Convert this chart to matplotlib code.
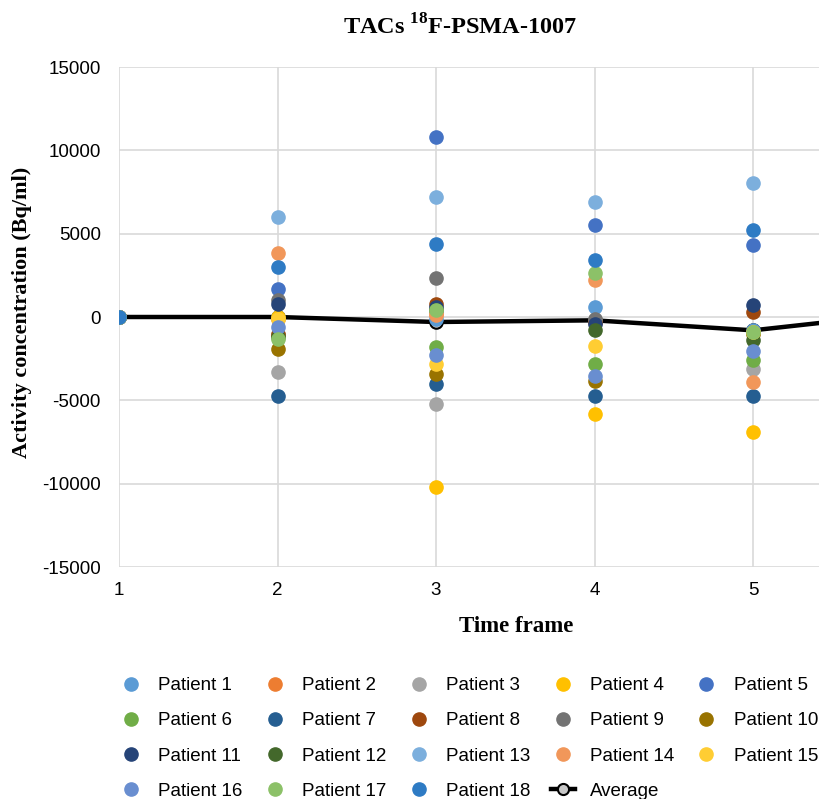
import matplotlib
matplotlib.use("Agg")
import matplotlib.pyplot as plt
from matplotlib.lines import Line2D

plt.rcParams["axes.unicode_minus"] = False
plt.rcParams["font.family"] = ["Liberation Sans", "DejaVu Sans"]
plt.rcParams["mathtext.fontset"] = "custom"
plt.rcParams["mathtext.rm"] = "Liberation Serif:bold"
plt.rcParams["mathtext.bf"] = "Liberation Serif:bold"

time_frames = [1, 2, 3, 4, 5]
patients = [f"Patient {i}" for i in range(1, 19)]
values = {
    "Patient 1":  [0, 0, -100, 600, -800],
    "Patient 2":  [0, -100, 200, -300, -900],
    "Patient 3":  [0, -3300, -5200, -200, -3100],
    "Patient 4":  [0, 0, -10200, -5800, -6900],
    "Patient 5":  [0, 1700, 10800, 5500, 4300],
    "Patient 6":  [0, -1100, -1800, -2800, -2600],
    "Patient 7":  [0, -4750, -4000, -4750, -4750],
    "Patient 8":  [0, -1000, 800, -300, 300],
    "Patient 9":  [0, 1000, 2350, -100, -900],
    "Patient 10": [0, -1900, -3400, -3850, -1000],
    "Patient 11": [0, 800, 600, -400, 750],
    "Patient 12": [0, -1200, 400, -800, -1400],
    "Patient 13": [0, 6000, 7200, 6900, 8050],
    "Patient 14": [0, 3850, 100, 2250, -3900],
    "Patient 15": [0, -100, -2800, -1750, -900],
    "Patient 16": [0, -600, -2300, -3550, -2050],
    "Patient 17": [0, -1300, 450, 2650, -900],
    "Patient 18": [0, 3000, 4400, 3400, 5250],
}
avg_frames = [1, 2, 3, 4, 5, 6]
average = [0, 0, -300, -200, -800, 250]

colors = ["#5B9BD5", "#ED7D31", "#A5A5A5", "#FFC000", "#4472C4", "#70AD47",
          "#255E91", "#9E480E", "#737373", "#997300", "#264478", "#43682B",
          "#7CAFDD", "#F1975A", "#FFCD33", "#698ED0", "#8CC168", "#2E7BC4"]

fig = plt.figure(figsize=(8.19, 7.99), dpi=100)
ax = fig.add_axes([119/819, 1-567/799, 1-119/819, 500/799])

ax.plot(avg_frames, average, color="black", lw=3.2, marker="o", ms=9,
        mfc="#C8C8C8", mec="black", mew=1.5, zorder=2, label="Average")
handles = []
for p, c in zip(patients, colors):
    h, = ax.plot(time_frames, values[p], linestyle="none", marker="o", ms=9.5,
                 color=c, mec=c, zorder=3, label=p)
    handles.append(h)
avg_handle = Line2D([], [], color="black", lw=3.2, marker="o", ms=8,
                    mfc="#C8C8C8", mec="black", mew=1.5)
handles.append(avg_handle)
labels = patients + ["Average"]

ax.set_xlim(1, 1 + 700/158.5)
ax.set_ylim(-15000, 15000)
ax.set_xticks(time_frames)
ax.set_yticks(range(-15000, 15001, 5000))
ax.grid(True, color="#D9D9D9", lw=1.2)
ax.set_axisbelow(True)
for s in ax.spines.values():
    s.set_visible(False)
ax.tick_params(length=0)
ax.tick_params(axis="y", labelsize=13.5, pad=13)
ax.tick_params(axis="x", labelsize=13.5, pad=11)

fig.text(460/819, 1-27/799, r"TACs $^{18}$F-PSMA-1007", ha="center", va="center",
         fontsize=17.5, fontweight="bold", family="Liberation Serif")
fig.text(516/819, 1-626/799, "Time frame", ha="center", va="center",
         fontsize=16.5, fontweight="bold", family="Liberation Serif")
fig.text(22/819, 1-312/799, "Activity concentration (Bq/ml)", ha="center", va="center",
         rotation=90, fontsize=16, fontweight="bold", family="Liberation Serif")

# reorder for row-major fill with 5 columns
order = []
n = len(handles)
for c in range(5):
    for r in range(4):
        i = r*5 + c
        if i < n:
            order.append(i)
leg = fig.legend([handles[i] for i in order], [labels[i] for i in order],
                 ncol=5, loc="center", bbox_to_anchor=(468.5/819, 1-738.5/799),
                 frameon=False, prop={"family": "Liberation Sans", "size": 13.5},
                 handlelength=1.3, handletextpad=0.8, columnspacing=1.07,
                 labelspacing=0.97)

fig.savefig("out.png", dpi=100)
